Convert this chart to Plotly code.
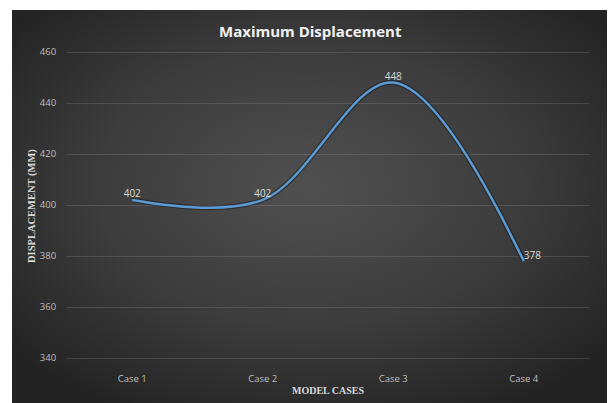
import base64
import plotly.graph_objects as go

categories = ["Case 1", "Case 2", "Case 3", "Case 4"]
displacement = [402, 402, 448, 378]
y_ticks = [340, 360, 380, 400, 420, 440, 460]

W, H = 611, 403

svg = f'''<svg xmlns="http://www.w3.org/2000/svg" width="595" height="393" viewBox="0 0 595 393" preserveAspectRatio="none">
<defs><radialGradient id="g" cx="50%" cy="45%" r="65%">
<stop offset="0" stop-color="#505050"/>
<stop offset="0.55" stop-color="#3c3c3c"/>
<stop offset="1" stop-color="#232323"/>
</radialGradient></defs>
<rect x="0" y="0" width="595" height="393" fill="url(#g)"/>
</svg>'''
bg_src = "data:image/svg+xml;base64," + base64.b64encode(svg.encode()).decode()

fig = go.Figure()
fig.add_trace(go.Scatter(
    x=categories, y=displacement, mode="lines",
    line=dict(color="rgba(0,0,0,0.35)", width=5, shape="spline"),
    hoverinfo="skip", showlegend=False))
fig.add_trace(go.Scatter(
    x=categories, y=displacement, mode="lines+text",
    line=dict(color="#5b9bd5", width=2.5, shape="spline"),
    text=[str(v) for v in displacement],
    textposition=["top center", "top center", "top center", "top right"],
    textfont=dict(family="Open Sans", size=10, color="#d9d9d9"),
    showlegend=False))

pad = 1.0
ppu = (358 - 52) / 120.0

fig.update_layout(
    width=W, height=H,
    margin=dict(l=0, r=0, t=0, b=0),
    paper_bgcolor="white", plot_bgcolor="rgba(0,0,0,0)",
    images=[dict(source=bg_src, xref="paper", yref="paper",
                 x=12 / W, y=1 - 10 / H, sizex=595 / W, sizey=393 / H,
                 xanchor="left", yanchor="top", sizing="stretch", layer="below")],
    xaxis=dict(domain=[67 / W, 589 / W], range=[-0.5, 3.5],
               showgrid=False, zeroline=False, showline=False,
               ticks="outside", ticklen=9, tickcolor="rgba(0,0,0,0)",
               tickfont=dict(family="Open Sans", size=9.5, color="#bfbfbf"),
               automargin=False, fixedrange=True),
    yaxis=dict(domain=[1 - (358 + pad * ppu) / H, 1 - (52 - pad * ppu) / H],
               range=[340 - pad, 460 + pad],
               tickvals=y_ticks, showgrid=True, gridcolor="rgba(255,255,255,0.12)",
               gridwidth=1, zeroline=False, showline=False,
               ticks="outside", ticklen=8, tickcolor="rgba(0,0,0,0)",
               tickfont=dict(family="Open Sans", size=9.5, color="#bfbfbf"),
               automargin=False, fixedrange=True),
    annotations=[
        dict(text="<b>Maximum Displacement</b>", xref="paper", yref="paper",
             x=310 / W, y=1 - 31 / H, xanchor="center", yanchor="middle",
             showarrow=False, font=dict(family="Open Sans", size=15, color="#f2f2f2")),
        dict(text="<b>DISPLACEMENT (MM)</b>", xref="paper", yref="paper",
             x=32 / W, y=1 - 206 / H, xanchor="center", yanchor="middle",
             textangle=-90, showarrow=False,
             font=dict(family="Liberation Serif", size=10.5, color="#d9d9d9")),
        dict(text="<b>MODEL CASES</b>", xref="paper", yref="paper",
             x=328 / W, y=1 - 390 / H, xanchor="center", yanchor="middle",
             showarrow=False,
             font=dict(family="Liberation Serif", size=10, color="#d9d9d9")),
    ],
)

fig.write_html("out.html", config={"displayModeBar": False},
               post_script="document.body.style.margin='0';")
